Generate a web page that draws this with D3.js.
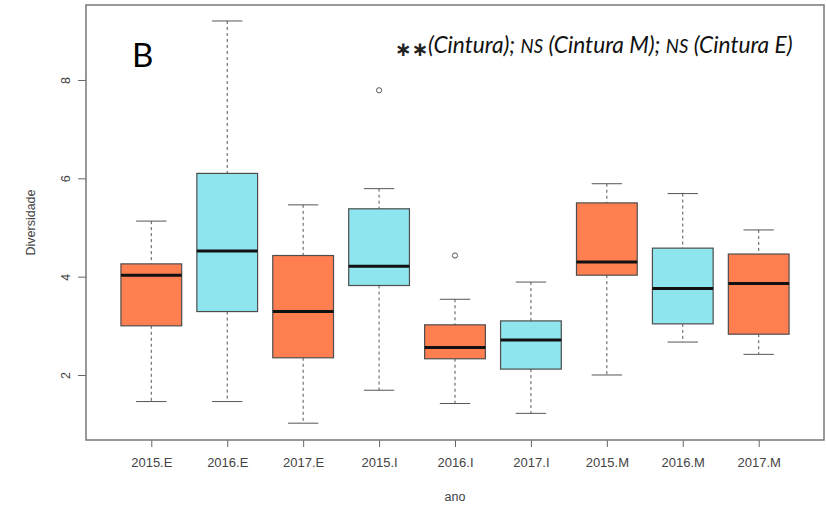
<!DOCTYPE html>
<html>
<head>
<meta charset="utf-8">
<script src="https://cdn.jsdelivr.net/npm/d3@7"></script>
<style>
  body { margin: 0; background: #fff; }
  svg { display: block; }
</style>
</head>
<body>
<div id="graph"></div>
<script>
// box statistics per group
var categories = ["2015.E", "2016.E", "2017.E", "2015.I", "2016.I", "2017.I", "2015.M", "2016.M", "2017.M"];
var lowerWhisker = [1.46, 1.46, 1.02, 1.69, 1.42, 1.22, 2.00, 2.67, 2.42];
var lowerHinge   = [3.00, 3.29, 2.35, 3.82, 2.33, 2.12, 4.03, 3.04, 2.83];
var medians      = [4.03, 4.52, 3.29, 4.21, 2.56, 2.71, 4.30, 3.76, 3.86];
var upperHinge   = [4.26, 6.10, 4.43, 5.38, 3.02, 3.10, 5.50, 4.58, 4.46];
var upperWhisker = [5.13, 9.20, 5.46, 5.79, 3.54, 3.89, 5.89, 5.69, 4.95];
var outliers     = [[], [], [], [7.79], [4.43], [], [], [], []];
var boxFill      = ["coral", "cadet", "coral", "cadet", "coral", "cadet", "coral", "cadet", "coral"];
var yTicks = [2, 4, 6, 8];

var g_colour = { coral: "#FF7F50", cadet: "#8EE5EE" };

//----------------------------------------------------------
var width = 826, height = 508;
var plot = { left: 86, top: 5, right: 824, bottom: 440 };

var g_svg = d3.select("#graph")
  .append("svg")
    .attr("width", width)
    .attr("height", height);

// R style: positions 1..n, xlim 0.5..n+0.5 widened by 4%
var n = categories.length;
var x = d3.scaleLinear()
    .domain([0.5 - 0.04 * n, n + 0.5 + 0.04 * n])
    .range([plot.left, plot.right]);

var y = d3.scaleLinear()
    .domain([0.678, 9.525])
    .range([plot.bottom, plot.top]);

var unit = x(2) - x(1);
var boxW = 0.8 * unit;
var capW = 0.4 * unit;

var rows = categories.map(function (name, i) {
    return {
        name: name, pos: i + 1,
        lo: lowerWhisker[i], q1: lowerHinge[i], med: medians[i],
        q3: upperHinge[i], hi: upperWhisker[i],
        out: outliers[i], fill: g_colour[boxFill[i]]
    };
});

//----------------------------------------------------------
var g_boxes = g_svg.append("g")
  .selectAll("g")
  .data(rows)
  .join("g")
    .attr("transform", function (d) {
        return "translate(" + x(d.pos) + ",0)";
    });

// whiskers
g_boxes.append("line")
    .attr("y1", function (d) { return y(d.hi); })
    .attr("y2", function (d) { return y(d.q3); })
    .attr("stroke", "#555")
    .attr("stroke-width", 1)
    .attr("stroke-dasharray", "3,3");

g_boxes.append("line")
    .attr("y1", function (d) { return y(d.q1); })
    .attr("y2", function (d) { return y(d.lo); })
    .attr("stroke", "#555")
    .attr("stroke-width", 1)
    .attr("stroke-dasharray", "3,3");

g_boxes.selectAll("line.cap")
    .data(function (d) { return [d.lo, d.hi]; })
    .join("line")
    .attr("class", "cap")
    .attr("x1", -capW / 2)
    .attr("x2", capW / 2)
    .attr("y1", function (v) { return y(v); })
    .attr("y2", function (v) { return y(v); })
    .attr("stroke", "#555")
    .attr("stroke-width", 1);

// boxes
g_boxes.append("rect")
    .attr("x", -boxW / 2)
    .attr("width", boxW)
    .attr("y", function (d) { return y(d.q3); })
    .attr("height", function (d) { return y(d.q1) - y(d.q3); })
    .attr("fill", function (d) { return d.fill; })
    .attr("stroke", "#4d4d4d")
    .attr("stroke-width", 1.2);

g_boxes.append("line")
    .attr("x1", -boxW / 2)
    .attr("x2", boxW / 2)
    .attr("y1", function (d) { return y(d.med); })
    .attr("y2", function (d) { return y(d.med); })
    .attr("stroke", "#111")
    .attr("stroke-width", 3);

g_boxes.selectAll("circle")
    .data(function (d) { return d.out; })
    .join("circle")
    .attr("r", 2.6)
    .attr("cy", function (v) { return y(v); })
    .attr("fill", "none")
    .attr("stroke", "#555")
    .attr("stroke-width", 1);

//----------------------------------------------------------
// axes
var axisFont = "'Liberation Sans', Arial, sans-serif";

var xAxis = g_svg.append("g")
    .attr("transform", "translate(0," + plot.bottom + ")")
    .call(d3.axisBottom(x)
        .tickValues(d3.range(1, n + 1))
        .tickFormat(function (d) { return categories[d - 1]; })
        .tickSize(7)
        .tickPadding(11));
xAxis.select(".domain").remove();
xAxis.selectAll("line").attr("stroke", "#666");
xAxis.selectAll("text")
    .attr("font-family", axisFont)
    .attr("font-size", 13)
    .attr("fill", "#444");

var yAxis = g_svg.append("g")
    .attr("transform", "translate(" + plot.left + ",0)")
    .call(d3.axisLeft(y)
        .tickValues(yTicks)
        .tickSize(8));
yAxis.select(".domain").remove();
yAxis.selectAll("line").attr("stroke", "#666");
yAxis.selectAll("text")
    .attr("font-family", axisFont)
    .attr("font-size", 12.5)
    .attr("fill", "#444")
    .attr("text-anchor", "middle")
    .attr("dy", 0)
    .attr("x", 0)
    .attr("transform", "translate(-20,0) rotate(-90)")
    .attr("dominant-baseline", "central");

// frame
g_svg.append("rect")
    .attr("x", plot.left)
    .attr("y", plot.top)
    .attr("width", plot.right - plot.left)
    .attr("height", plot.bottom - plot.top)
    .attr("fill", "none")
    .attr("stroke", "#777")
    .attr("stroke-width", 1.5);

// axis titles
g_svg.append("text")
    .attr("x", (plot.left + plot.right) / 2)
    .attr("y", 501)
    .attr("text-anchor", "middle")
    .attr("font-family", axisFont)
    .attr("font-size", 12.5)
    .attr("fill", "#444")
    .text("ano");

g_svg.append("text")
    .attr("transform", "translate(35," + ((plot.top + plot.bottom) / 2) + ") rotate(-90)")
    .attr("text-anchor", "middle")
    .attr("font-family", axisFont)
    .attr("font-size", 12.5)
    .attr("fill", "#444")
    .text("Diversidade");

//----------------------------------------------------------
// panel letter and significance note
var noteFont = "Lato, 'Open Sans', sans-serif";

g_svg.append("text")
    .attr("x", 132)
    .attr("y", 67)
    .attr("font-family", noteFont)
    .attr("font-size", 33)
    .attr("fill", "#000")
    .text("B");

g_svg.append("text")
    .attr("x", 395)
    .attr("y", 56)
    .attr("font-family", "'DejaVu Sans', sans-serif")
    .attr("font-size", 20)
    .attr("font-weight", "bold")
    .attr("fill", "#222")
    .text("\u2217\u2217");

var note = g_svg.append("text")
    .attr("x", 428)
    .attr("y", 53)
    .attr("font-family", noteFont)
    .attr("font-style", "italic")
    .attr("fill", "#111");

var noteParts = [
    ["(Cintura); ", 22.7],
    ["NS", 18.5],
    [" (Cintura M); ", 22.7],
    ["NS", 18.5],
    [" (Cintura E)", 22.7]
];
note.selectAll("tspan")
    .data(noteParts)
    .join("tspan")
    .attr("font-size", function (d) { return d[1]; })
    .text(function (d) { return d[0]; });
</script>
</body>
</html>
